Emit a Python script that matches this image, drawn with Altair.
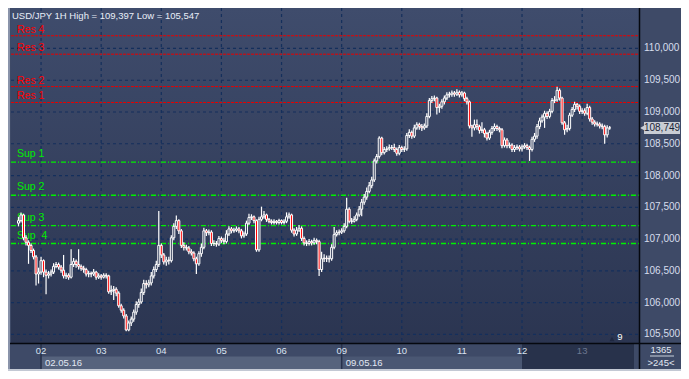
import altair as alt
import pandas as pd

TITLE = "USD/JPY 1H High = 109,397 Low = 105,547"
first_open = 107.25

close = [
    107.29, 107.38, 107.02, 106.95, 106.90, 106.82, 106.72, 106.45, 106.48, 106.66,
    106.48, 106.43, 106.45, 106.48, 106.57, 106.60, 106.56, 106.51, 106.42, 106.43,
    106.40, 106.60, 106.65, 106.60, 106.57, 106.54, 106.52, 106.45, 106.46, 106.45,
    106.48, 106.40, 106.42, 106.40, 106.43, 106.42, 106.17, 106.19, 106.21, 106.15,
    105.95, 105.88, 105.79, 105.57, 105.68, 105.74, 105.85, 105.97, 106.01, 106.16,
    106.30, 106.28, 106.31, 106.42, 106.52, 106.60, 106.90, 106.75, 106.64, 106.67,
    106.66, 107.02, 107.20, 107.29, 107.13, 106.90, 106.87, 106.86, 106.80, 106.78,
    106.69, 106.61, 106.77, 106.87, 107.13, 107.10, 107.11, 106.93, 106.93, 106.92,
    107.01, 106.98, 106.96, 107.08, 107.16, 107.13, 107.14, 107.16, 107.13, 107.05,
    107.08, 107.25, 107.34, 107.35, 107.29, 106.83, 107.31, 107.35, 107.38, 107.31,
    107.28, 107.26, 107.28, 107.26, 107.29, 107.26, 107.28, 107.35, 107.38, 107.14,
    107.08, 107.14, 107.17, 107.01, 106.94, 106.93, 106.96, 106.94, 106.98, 106.96,
    106.52, 106.69, 106.70, 106.69, 106.69, 106.87, 107.07, 107.10, 107.11, 107.13,
    107.20, 107.47, 107.28, 107.28, 107.31, 107.38, 107.47, 107.58, 107.66, 107.75,
    107.84, 107.93, 108.23, 108.30, 108.59, 108.36, 108.41, 108.42, 108.44, 108.44,
    108.41, 108.35, 108.44, 108.41, 108.42, 108.63, 108.68, 108.62, 108.75, 108.80,
    108.77, 108.75, 108.78, 108.93, 109.18, 109.21, 109.22, 109.07, 109.09, 109.16,
    109.22, 109.27, 109.28, 109.30, 109.28, 109.31, 109.27, 109.30, 109.21, 109.16,
    108.78, 108.75, 108.80, 108.77, 108.71, 108.72, 108.66, 108.59, 108.68, 108.74,
    108.77, 108.74, 108.72, 108.47, 108.56, 108.47, 108.48, 108.41, 108.44, 108.45,
    108.42, 108.45, 108.47, 108.44, 108.41, 108.57, 108.62, 108.77, 108.86, 108.92,
    108.98, 108.93, 109.01, 109.18, 109.19, 109.34, 109.22, 108.83, 108.72, 108.74,
    108.95, 109.04, 109.12, 109.09, 109.01, 109.02, 108.98, 109.07, 108.89, 108.84,
    108.81, 108.81, 108.78, 108.77, 108.64, 108.75, 108.749,
]

high = [
    107.35, 107.42, 107.40, 107.06, 106.98, 106.93, 106.85, 106.75, 106.55, 106.72,
    106.68, 106.52, 106.50, 106.52, 106.62, 106.64, 106.63, 106.59, 106.75, 106.47,
    106.46, 106.84, 106.70, 106.68, 106.84, 106.60, 106.58, 106.55, 106.50, 106.49,
    106.53, 106.50, 106.46, 106.45, 106.46, 106.46, 106.44, 106.27, 106.26, 106.24,
    106.18, 105.98, 105.91, 105.82, 105.72, 105.78, 105.89, 106.02, 106.06, 106.22,
    106.36, 106.35, 106.36, 106.48, 106.57, 106.66, 107.44, 106.93, 106.78, 106.72,
    106.72, 107.06, 107.25, 107.37, 107.31, 107.16, 106.95, 106.91, 106.89, 106.84,
    106.81, 106.72, 106.81, 106.93, 107.18, 107.16, 107.15, 107.14, 106.98, 106.97,
    107.05, 107.04, 107.02, 107.14, 107.20, 107.19, 107.18, 107.20, 107.19, 107.16,
    107.12, 107.29, 107.40, 107.39, 107.37, 107.31, 107.35, 107.51, 107.44, 107.40,
    107.33, 107.31, 107.31, 107.30, 107.32, 107.31, 107.31, 107.42, 107.42, 107.40,
    107.17, 107.19, 107.22, 107.20, 107.04, 106.98, 107.00, 106.99, 107.02, 107.01,
    106.99, 106.80, 106.76, 106.74, 106.74, 106.92, 107.19, 107.14, 107.15, 107.17,
    107.25, 107.65, 107.50, 107.33, 107.36, 107.42, 107.52, 107.63, 107.71, 107.81,
    107.90, 107.98, 108.27, 108.34, 108.62, 108.61, 108.45, 108.46, 108.49, 108.48,
    108.50, 108.44, 108.48, 108.47, 108.46, 108.67, 108.73, 108.71, 108.80, 108.84,
    108.83, 108.81, 108.82, 108.98, 109.22, 109.25, 109.26, 109.24, 109.13, 109.20,
    109.26, 109.31, 109.32, 109.34, 109.33, 109.36, 109.34, 109.33, 109.32, 109.24,
    109.18, 108.80, 108.88, 108.88, 108.80, 108.84, 108.75, 108.69, 108.72, 108.78,
    108.82, 108.80, 108.77, 108.75, 108.60, 108.59, 108.52, 108.51, 108.48, 108.49,
    108.48, 108.49, 108.51, 108.50, 108.47, 108.61, 108.67, 108.81, 108.91, 108.96,
    109.02, 109.01, 109.05, 109.22, 109.25, 109.397, 109.37, 109.24, 108.86, 108.80,
    108.99, 109.08, 109.16, 109.14, 109.12, 109.06, 109.06, 109.13, 109.10, 108.92,
    108.87, 108.85, 108.84, 108.82, 108.80, 108.79, 108.78,
]

low = [
    107.20, 107.26, 106.98, 106.90, 106.61, 106.78, 106.68, 106.27, 106.30, 106.44,
    106.40, 106.13, 106.38, 106.41, 106.45, 106.54, 106.52, 106.47, 106.38, 106.37,
    106.36, 106.38, 106.56, 106.55, 106.52, 106.50, 106.47, 106.41, 106.40, 106.40,
    106.42, 106.36, 106.37, 106.36, 106.38, 106.38, 106.14, 106.12, 106.04, 106.10,
    105.92, 105.84, 105.75, 105.547, 105.55, 105.63, 105.70, 105.81, 105.92, 105.98,
    106.12, 106.22, 106.24, 106.27, 106.38, 106.48, 106.56, 106.70, 106.60, 106.58,
    106.60, 106.63, 106.98, 107.16, 107.08, 106.86, 106.82, 106.82, 106.76, 106.74,
    106.65, 106.45, 106.58, 106.72, 106.84, 107.05, 107.06, 106.89, 106.89, 106.88,
    106.89, 106.94, 106.92, 106.93, 107.05, 107.09, 107.10, 107.11, 107.09, 107.01,
    107.02, 107.05, 107.22, 107.30, 107.25, 106.80, 106.80, 107.28, 107.32, 107.27,
    107.25, 107.23, 107.23, 107.23, 107.23, 107.23, 107.23, 107.25, 107.32, 107.10,
    107.04, 107.05, 107.11, 106.97, 106.90, 106.89, 106.90, 106.90, 106.91, 106.92,
    106.42, 106.48, 106.64, 106.64, 106.63, 106.66, 106.84, 107.04, 107.06, 107.08,
    107.10, 107.17, 107.25, 107.24, 107.26, 107.28, 107.35, 107.36, 107.54, 107.62,
    107.72, 107.80, 107.90, 108.19, 108.27, 108.32, 108.33, 108.37, 108.39, 108.40,
    108.37, 108.31, 108.32, 108.37, 108.37, 108.39, 108.59, 108.58, 108.59, 108.72,
    108.72, 108.70, 108.72, 108.75, 108.90, 109.14, 109.17, 108.96, 108.99, 109.05,
    109.12, 109.19, 109.23, 109.24, 109.24, 109.25, 109.23, 109.24, 109.17, 109.12,
    108.74, 108.61, 108.71, 108.72, 108.66, 108.67, 108.60, 108.55, 108.56, 108.64,
    108.70, 108.70, 108.68, 108.43, 108.44, 108.43, 108.43, 108.37, 108.37, 108.40,
    108.38, 108.38, 108.42, 108.40, 108.23, 108.38, 108.53, 108.58, 108.73, 108.83,
    108.75, 108.89, 108.90, 108.98, 109.14, 109.16, 109.18, 108.80, 108.64, 108.68,
    108.71, 108.92, 109.00, 109.04, 108.97, 108.97, 108.94, 108.95, 108.85, 108.80,
    108.77, 108.77, 108.74, 108.73, 108.50, 108.60, 108.72,
]

day_index = [10, 34, 58, 82, 106, 130, 154, 178, 202, 226]
day_labels = ["02", "03", "04", "05", "06", "09", "10", "11", "12", "13"]
week_start = [10, 130]
week_end = [130, 202]
week_labels = ["02.05.16", "09.05.16"]
price_ticks = [105.5, 106.0, 106.5, 107.0, 107.5, 108.0, 108.5, 109.0, 109.5, 110.0]
price_labels = ["105,500", "106,000", "106,500", "107,000", "107,500",
                "108,000", "108,500", "109,000", "109,500", "110,000"]
res_names = ["Res 4", "Res 3", "Res 2", "Res 1"]
res_values = [110.20, 109.91, 109.40, 109.15]
sup_names = ["Sup 1", "Sup 2", "Sup 3", "Sup\u00a0\u00a04"]
sup_values = [108.21, 107.69, 107.21, 106.93]
last_price = 108.749
last_label = "108,749"
bars_total = "1365"
bars_shown = ">245<"
corner_mark = "9"

# ---------------------------------------------------------------- layout
W, H = 628, 335
FONT = "Liberation Sans"
GRID = "#142f5c"
XS = alt.Scale(domain=[0, 246.7], nice=False, zero=False)
YS = alt.Scale(domain=[105.364, 110.637], nice=False, zero=False)

n = len(close)
opens = [first_open] + close[:-1]
candles = pd.DataFrame({
    "i": list(range(1, n + 1)),
    "open": opens,
    "close": close,
    "high": high,
    "low": low,
})

one = pd.DataFrame({"k": [0]})

bg = alt.Chart(one).mark_rect(
    color=alt.LinearGradient(
        gradient="linear",
        stops=[alt.GradientStop(color="#3f4c6c", offset=0),
               alt.GradientStop(color="#2b3551", offset=1)],
        x1=0, x2=0, y1=0, y2=1,
    )
).encode(x=alt.value(0), x2=alt.value(W), y=alt.value(0), y2=alt.value(H))

hgrid = alt.Chart(pd.DataFrame({"p": price_ticks})).mark_rule(
    color=GRID, strokeDash=[3, 3], strokeWidth=1.2
).encode(y=alt.Y("p:Q", scale=YS, axis=None), x=alt.value(0), x2=alt.value(W))

vgrid = alt.Chart(pd.DataFrame({"i": day_index})).mark_rule(
    color=GRID, strokeDash=[3, 3], strokeWidth=1.2
).encode(x=alt.X("i:Q", scale=XS, axis=None), y=alt.value(0), y2=alt.value(H))

# bottom band
weeks = pd.DataFrame({"s": week_start, "e": week_end, "lab": week_labels,
                      "c": ["#56637d", "#4a5773"]})
week_strips = alt.Chart(weeks).mark_rect().encode(
    x=alt.X("s:Q", scale=XS, axis=None), x2="e:Q",
    y=alt.value(348.5), y2=alt.value(361),
    color=alt.Color("c:N", scale=None),
)
dark = pd.DataFrame({"s": [202], "e": [246.7]})
dark_strip = alt.Chart(dark).mark_rect(color="#28324b").encode(
    x=alt.X("s:Q", scale=XS, axis=None), x2="e:Q",
    y=alt.value(335), y2=alt.value(361),
)
seps = alt.Chart(pd.DataFrame({"s": week_start})).mark_rule(
    color="#27314b", strokeWidth=1.5
).encode(x=alt.X("s:Q", scale=XS, axis=None), y=alt.value(335), y2=alt.value(361))

days = pd.DataFrame({"i": day_index, "lab": day_labels})
day_text = alt.Chart(days).mark_text(
    font=FONT, fontSize=9.5, align="center", baseline="middle"
).encode(
    x=alt.X("i:Q", scale=XS, axis=None), y=alt.value(343), text="lab:N",
    color=alt.condition("datum.i >= 220", alt.value("#6c7790"), alt.value("#dbe3f2")),
)
week_text = alt.Chart(weeks).mark_text(
    font=FONT, fontSize=9.5, align="left", baseline="middle", dx=4, color="#e2e8f3"
).encode(x=alt.X("s:Q", scale=XS, axis=None), y=alt.value(354.5), text="lab:N")

# price scale labels (right panel)
ticks_df = pd.DataFrame({"p": price_ticks, "lab": price_labels})
y_labels = alt.Chart(ticks_df).mark_text(
    font=FONT, fontSize=10, align="left", baseline="middle", color="#d6dded"
).encode(y=alt.Y("p:Q", scale=YS, axis=None), x=alt.value(633), text="lab:N")

# support / resistance
res_df = pd.DataFrame({"v": res_values, "name": res_names})
sup_df = pd.DataFrame({"v": sup_values, "name": sup_names})
res_lines = alt.Chart(res_df).mark_rule(
    color="#e80000", strokeDash=[3, 1], strokeWidth=1
).encode(y=alt.Y("v:Q", scale=YS, axis=None), x=alt.value(0), x2=alt.value(W))
sup_lines = alt.Chart(sup_df).mark_rule(
    color="#00f000", strokeDash=[5, 2, 1, 2], strokeWidth=1.3
).encode(y=alt.Y("v:Q", scale=YS, axis=None), x=alt.value(0), x2=alt.value(W))
res_text = alt.Chart(res_df).mark_text(
    font=FONT, fontSize=10.5, align="left", baseline="alphabetic", dy=-3, color="#ff0000"
).encode(y=alt.Y("v:Q", scale=YS, axis=None), x=alt.value(6), text="name:N")
sup_text = alt.Chart(sup_df).mark_text(
    font=FONT, fontSize=10.5, align="left", baseline="alphabetic", dy=-5, color="#00ee00"
).encode(y=alt.Y("v:Q", scale=YS, axis=None), x=alt.value(6), text="name:N")

# candles
wicks = alt.Chart(candles).mark_rule(color="#ffffff", strokeWidth=1.2).encode(
    x=alt.X("i:Q", scale=XS, axis=None),
    y=alt.Y("low:Q", scale=YS, axis=None),
    y2="high:Q",
)
bodies = alt.Chart(candles).mark_bar(size=2, stroke="#ffffff", strokeWidth=1).encode(
    x=alt.X("i:Q", scale=XS, axis=None),
    y=alt.Y("open:Q", scale=YS, axis=None),
    y2="close:Q",
    fill=alt.condition("datum.close < datum.open", alt.value("#ff0000"), alt.value("#2f3a58")),
)

# title text
title = alt.Chart(pd.DataFrame({"t": [TITLE]})).mark_text(
    font=FONT, fontSize=9.5, align="left", baseline="middle", color="#e8eef8"
).encode(x=alt.value(1), y=alt.value(8), text="t:N")

# price tag
tag_df = pd.DataFrame({"p": [last_price], "t": [last_label]})
tag_box = alt.Chart(tag_df).mark_rect(color="#c9cdd5", yOffset=-6, y2Offset=6).encode(
    y=alt.Y("p:Q", scale=YS, axis=None), y2="p:Q", x=alt.value(633), x2=alt.value(669)
)
tag_arrow = alt.Chart(tag_df).mark_point(
    shape="triangle-left", filled=True, size=45, color="#c9cdd5", opacity=1
).encode(y=alt.Y("p:Q", scale=YS, axis=None), x=alt.value(632))
tag_text = alt.Chart(tag_df).mark_text(
    font=FONT, fontSize=10, align="center", baseline="middle", color="#1b2336"
).encode(y=alt.Y("p:Q", scale=YS, axis=None), x=alt.value(651), text="t:N")

# right-bottom counters
cnt_df = pd.DataFrame({"t": [bars_total, bars_shown], "yy": [341.5, 354.5]})
counters = alt.Chart(cnt_df).mark_text(
    font=FONT, fontSize=9.5, align="center", baseline="middle", color="#e2e8f2"
).encode(x=alt.value(650), y=alt.Y("yy:Q", scale=None), text="t:N")
underline = alt.Chart(one).mark_rule(color="#c8d0dc", strokeWidth=1).encode(
    x=alt.value(639), x2=alt.value(663), y=alt.value(348)
)
corner = alt.Chart(pd.DataFrame({"t": [corner_mark]})).mark_text(
    font=FONT, fontSize=9.5, align="center", baseline="middle", color="#ffffff"
).encode(x=alt.value(609), y=alt.value(329), text="t:N")
corner_tri = alt.Chart(one).mark_point(
    shape="triangle-up", filled=True, size=25, color="#1f2840", opacity=1
).encode(x=alt.value(601), y=alt.value(331))

# borders
vline = alt.Chart(one).mark_rule(color="#05080f", strokeWidth=1.5).encode(
    x=alt.value(628.5), y=alt.value(0), y2=alt.value(363)
)
hline = alt.Chart(one).mark_rule(color="#05080f", strokeWidth=1.5).encode(
    x=alt.value(-3), x2=alt.value(670), y=alt.value(335.5)
)
left_border = alt.Chart(one).mark_rect(color="#8a94aa").encode(
    x=alt.value(-3), x2=alt.value(-1), y=alt.value(0), y2=alt.value(363)
)
bottom_border = alt.Chart(one).mark_rect(color="#c3c9d4").encode(
    x=alt.value(-3), x2=alt.value(670), y=alt.value(361), y2=alt.value(363)
)

chart = alt.layer(
    bg, hgrid, vgrid,
    week_strips, dark_strip, seps, day_text, week_text,
    res_lines, sup_lines, res_text, sup_text,
    wicks, bodies,
    title, y_labels, tag_box, tag_arrow, tag_text,
    counters, underline, corner_tri, corner,
    vline, hline, left_border, bottom_border,
).properties(
    width=W, height=H,
    autosize=alt.AutoSizeParams(type="none"),
    padding={"left": 3, "top": 0, "right": 42, "bottom": 28},
).configure(
    background="#3e4a67"
).configure_view(strokeWidth=0)

chart.save("out.html", embed_options={"renderer": "svg", "actions": False})
